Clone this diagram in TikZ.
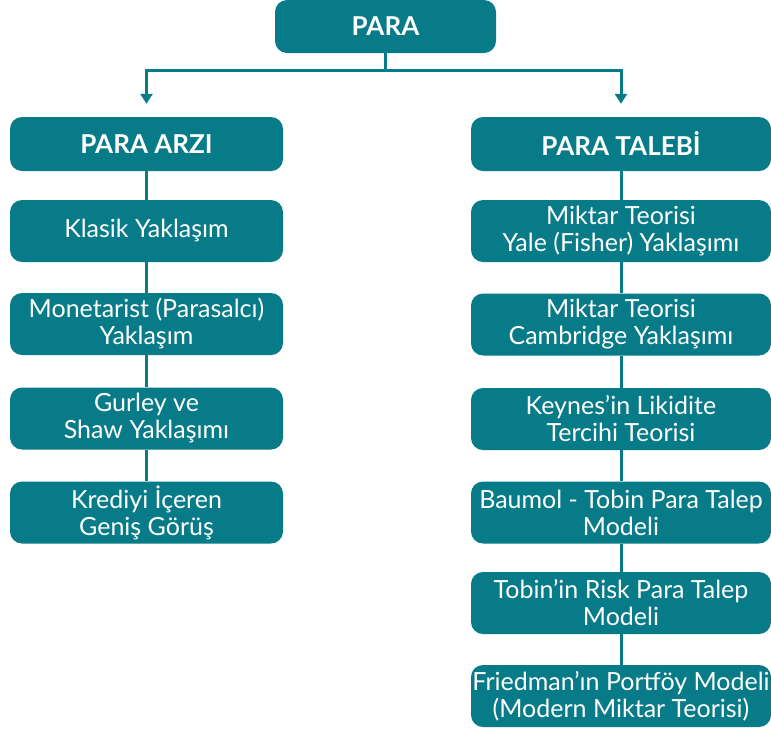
\documentclass[tikz,border=0pt]{standalone}
\usepackage{fontspec}
\setmainfont{Lato}
\usetikzlibrary{arrows.meta,positioning}
\definecolor{ParaTeal}{RGB}{7,123,135}

\tikzset{
  box/.style={rectangle,rounded corners=12pt,fill=ParaTeal,text=white,
    minimum height=62pt,inner sep=0pt,align=center,
    font=\fontsize{25}{27}\selectfont},
  headbox/.style={box,minimum height=54pt,font=\fontsize{26}{27}\selectfont\bfseries},
  link/.style={draw=ParaTeal,line width=3pt},
  arrow/.style={link,-{Triangle[width=12pt,length=10pt]},shorten >=13pt}
}

\begin{document}
\begin{tikzpicture}[x=1pt,y=-1pt]
\useasboundingbox (0,0) rectangle (771,732);
% top
\node[headbox,minimum width=221pt,minimum height=53pt] (para) at (385.5,26.5) {PARA};
\coordinate (split) at (385.5,70);
% left column
\node[headbox,minimum width=273pt] (arzi) at (146.5,144) {PARA ARZI};
\node[box,minimum width=273pt] (klasik) at (146.5,231) {Klasik Yaklaşım};
\node[box,minimum width=273pt] (monet) at (146.5,324) {Monetarist (Parasalcı)\\Yaklaşım};
\node[box,minimum width=273pt] (gurley) at (146.5,418.5) {Gurley ve\\Shaw Yaklaşımı};
\node[box,minimum width=273pt] (kredi) at (146.5,512.5) {Krediyi İçeren\\Geniş Görüş};
% right column
\node[headbox,minimum width=300pt] (talebi) at (621,144) {PARA TALEBİ};
\node[box,minimum width=300pt] (yale) at (621,231) {Miktar Teorisi\\Yale (Fisher) Yaklaşımı};
\node[box,minimum width=300pt] (cambr) at (621,324.5) {Miktar Teorisi\\Cambridge Yaklaşımı};
\node[box,minimum width=300pt] (keynes) at (621,419) {Keynes’in Likidite\\Tercihi Teorisi};
\node[box,minimum width=300pt] (baumol) at (621,512.5) {Baumol - Tobin Para Talep\\Modeli};
\node[box,minimum width=300pt] (tobin) at (621,603) {Tobin’in Risk Para Talep\\Modeli};
\node[box,minimum width=300pt] (fried) at (621,696) {Friedman’ın Portföy Modeli\\(Modern Miktar Teorisi)};
% connectors
\draw[link] (para) -- (split);
\draw[arrow] (split) -| (arzi.north);
\draw[arrow] (split) -| (talebi.north);
\draw[link] (arzi) -- (klasik) -- (monet) -- (gurley) -- (kredi);
\draw[link] (talebi) -- (yale) -- (cambr) -- (keynes) -- (baumol) -- (tobin) -- (fried);
\end{tikzpicture}
\end{document}
